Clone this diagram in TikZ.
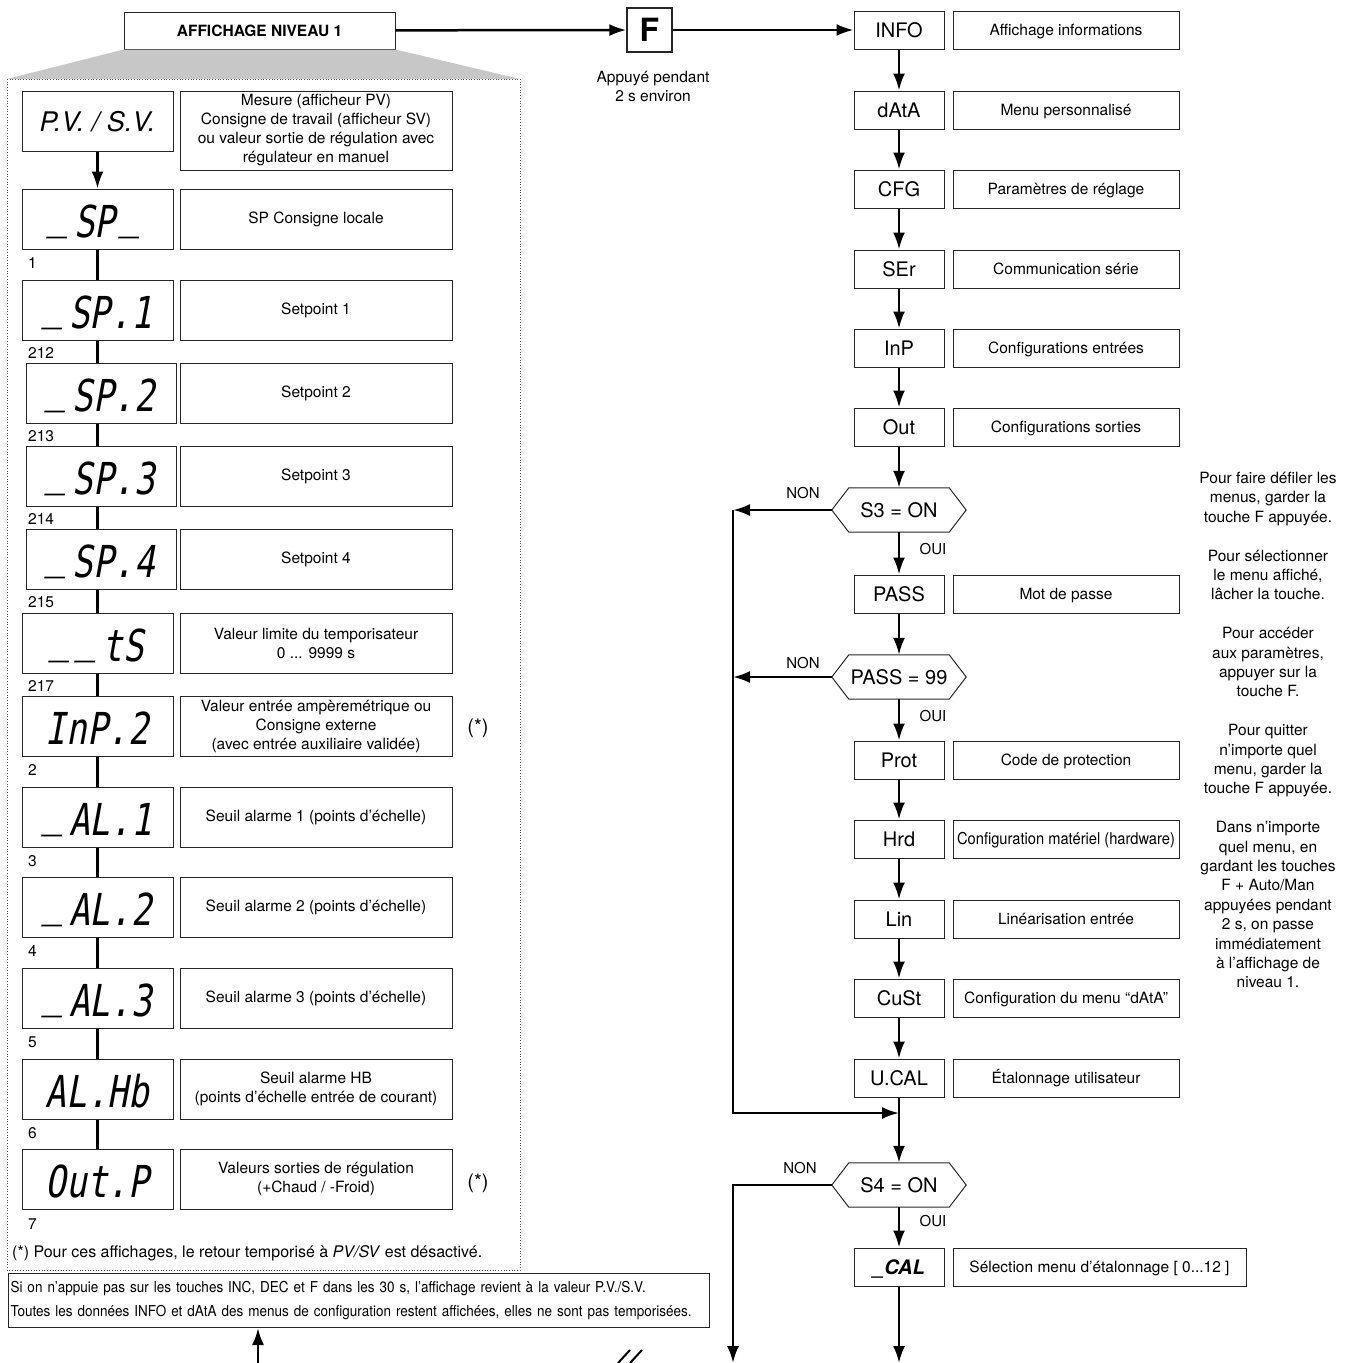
\documentclass[tikz,border=0pt]{standalone}
\usepackage{fontspec}
\setmainfont{TeX Gyre Heros}
\newfontfamily\condfam[FakeStretch=0.9]{TeX Gyre Heros}
\newfontfamily\segfam[FakeStretch=0.78,FakeSlant=0.18]{DejaVu Sans Mono}
\usepackage{tikz}
\usetikzlibrary{arrows.meta}
\usetikzlibrary{positioning}

\newcommand{\descfont}{\fontsize{15.5}{19}\selectfont}
\newcommand{\menufont}{\fontsize{20}{24}\selectfont}
\newcommand{\segfont}{\segfam\fontsize{44}{44}\selectfont}
\newcommand{\segbar}{\raisebox{.2em}{\_}\kern.12em}

\tikzset{
  box/.style={draw=black!85, line width=1pt, inner sep=0pt},
  disp/.style={box, minimum width=151pt, minimum height=60pt, font=\segfont, text height=46pt, text depth=10pt},
  note/.style={box, align=center, minimum width=272pt, minimum height=60pt, font=\descfont},
  menu/.style={box, minimum width=90pt, minimum height=38pt, font=\menufont, text height=14.5pt, text depth=0pt},
  menunote/.style={box, minimum width=226pt, minimum height=38pt, font=\descfont, text height=10pt, text depth=0pt},
  choice/.style={inner sep=0pt, minimum width=134pt, minimum height=44pt, font=\menufont},
  hexline/.style={draw=black!85, line width=1pt},
  flow/.style={line width=2.5pt, -{Latex[length=17pt,width=12pt]}},
  link/.style={line width=2.5pt},
  num/.style={anchor=west, inner sep=0pt, font=\descfont},
  tag/.style={inner sep=0pt, font=\descfont},
  yesno/.style={inner sep=0pt, font=\fontsize{15}{18}\selectfont},
}

\begin{document}
\begin{tikzpicture}[x=1pt, y=-1pt]
 \useasboundingbox (0,0) rectangle (1350,1363);

 % level 1 and F key
 \node [box, minimum width=271pt, minimum height=37pt, font=\bfseries\fontsize{15.5}{18}\selectfont] (level) at (259.5,30.5) {AFFICHAGE NIVEAU 1};
 \node [box, line width=1.3pt, minimum width=45pt, minimum height=44pt, font=\bfseries\fontsize{32}{32}\selectfont] (fkey) at (649.5,30) {F};
 \node [tag, align=center] (fcap) at (653,86) {Appuyé pendant\\2 s environ};

 \fill [black!22] (level.south west) -- (level.south east) -- (520,79) -- (7,79) -- cycle;
 \draw [dotted, line width=0.7pt, black!70] (7,79) rectangle (520,1270);

 % displays of level 1
 \node [disp, font=\itshape\fontsize{27}{27}\selectfont, text height=20pt, text depth=0pt] (pv) at (97.5,121) {P.V. / S.V.};
 \node [note, minimum height=79pt] (pvtxt) at (316,130.5) {Mesure (afficheur PV)\\Consigne de travail (afficheur SV)\\ou valeur sortie de régulation avec\\régulateur en manuel};
 \node [disp] (sp) at (97.5,219) {\segbar SP\kern.12em\segbar};
 \node [note] (sptxt) at (316,219) {SP Consigne locale};
 \node [num] (n1) at (28,263) {1};
 \node [disp] (sp1) at (97.5,310) {\segbar SP.1};
 \node [note] (sp1txt) at (316,310) {Setpoint 1};
 \node [num] (n212) at (28,353) {212};
 \node [disp, minimum width=150pt] (sp2) at (101,393) {\segbar SP.2};
 \node [note] (sp2txt) at (316,393) {Setpoint 2};
 \node [num] (n213) at (28,436) {213};
 \node [disp, minimum width=150pt] (sp3) at (101,476.5) {\segbar SP.3};
 \node [note] (sp3txt) at (316,476.5) {Setpoint 3};
 \node [num] (n214) at (28,519) {214};
 \node [disp, minimum width=150pt] (sp4) at (101,559.5) {\segbar SP.4};
 \node [note] (sp4txt) at (316,559.5) {Setpoint 4};
 \node [num] (n215) at (28,602) {215};
 \node [disp] (ts) at (97.5,643) {\segbar\segbar tS};
 \node [note] (tstxt) at (316,643) {Valeur limite du temporisateur\\0 ... 9999 s};
 \node [num] (n217) at (28,686) {217};
 \node [disp] (inp) at (97.5,726) {InP.2};
 \node [note] (inptxt) at (316,726) {Valeur entrée ampèremétrique ou\\Consigne externe\\(avec entrée auxiliaire validée)};
 \node [tag, font=\fontsize{20}{20}\selectfont] (inpstar) at (478,728) {(*)};
 \node [num] (n2) at (28,770) {2};
 \node [disp] (al1) at (97.5,817) {\segbar AL.1};
 \node [note] (al1txt) at (316,817) {Seuil alarme 1 (points d’échelle)};
 \node [num] (n3) at (28,861) {3};
 \node [disp] (al2) at (97.5,907) {\segbar AL.2};
 \node [note] (al2txt) at (316,907) {Seuil alarme 2 (points d’échelle)};
 \node [num] (n4) at (28,951) {4};
 \node [disp] (al3) at (97.5,998) {\segbar AL.3};
 \node [note] (al3txt) at (316,998) {Seuil alarme 3 (points d’échelle)};
 \node [num] (n5) at (28,1042) {5};
 \node [disp] (alhb) at (97.5,1089) {AL.Hb};
 \node [note] (alhbtxt) at (316,1089) {Seuil alarme HB\\(points d’échelle entrée de courant)};
 \node [num] (n6) at (28,1133) {6};
 \node [disp] (outp) at (97.5,1179) {Out.P};
 \node [note] (outptxt) at (316,1179) {Valeurs sorties de régulation\\(+Chaud / -Froid)};
 \node [tag, font=\fontsize{20}{20}\selectfont] (outpstar) at (478,1183) {(*)};
 \node [num] (n7) at (28,1224) {7};
 \node [num, font=\fontsize{16}{18}\selectfont] (starnote) at (12,1253) {(*) Pour ces affichages, le retour temporisé à \textit{PV/SV} est désactivé.};

 \draw [flow] (pv) -- (sp);
 \draw [link] (sp) -- (sp1);
 \draw [link] (sp1.south -| pv) -- (sp2.north -| pv);
 \draw [link] (sp2.south -| pv) -- (sp3.north -| pv);
 \draw [link] (sp3.south -| pv) -- (sp4.north -| pv);
 \draw [link] (sp4.south -| pv) -- (ts.north -| pv);
 \draw [link] (ts) -- (inp);
 \draw [link] (inp) -- (al1);
 \draw [link] (al1) -- (al2);
 \draw [link] (al2) -- (al3);
 \draw [link] (al3) -- (alhb);
 \draw [link] (alhb) -- (outp);

 % time-out note
 \node [box, anchor=north west, minimum width=701pt, minimum height=54pt, text width=697pt, inner xsep=2pt, align=left, font=\condfam\fontsize{15}{24}\selectfont] (timeout) at (8,1273) {Si on n’appuie pas sur les touches INC, DEC et F dans les 30 s, l’affichage revient à la valeur P.V./S.V.\\Toutes les données INFO et dAtA des menus de configuration restent affichées, elles ne sont pas temporisées.};
 \coordinate (upfoot) at (258,1363);
 \draw [flow] (upfoot) -- (upfoot |- timeout.south);
 \draw [line width=2pt] (618,1363) -- (630,1350) (630,1363) -- (642,1350);

 % menus
 \node [menu] (info) at (899,30) {INFO};
 \node [menunote, right=8pt of info] (infotxt) {Affichage informations};
 \node [menu] (data) at (899,110) {dAtA};
 \node [menunote, right=8pt of data] (datatxt) {Menu personnalisé};
 \node [menu] (cfg) at (899,189) {CFG};
 \node [menunote, right=8pt of cfg] (cfgtxt) {Paramètres de réglage};
 \node [menu] (ser) at (899,269) {SEr};
 \node [menunote, right=8pt of ser] (sertxt) {Communication série};
 \node [menu] (inpm) at (899,348) {InP};
 \node [menunote, right=8pt of inpm] (inpmtxt) {Configurations entrées};
 \node [menu] (outm) at (899,427) {Out};
 \node [menunote, right=8pt of outm] (outmtxt) {Configurations sorties};
 \node [choice] (s3) at (899,510) {S3 = ON};
 \node [menu] (pass) at (899,594) {PASS};
 \node [menunote, right=8pt of pass] (passtxt) {Mot de passe};
 \node [choice] (p99) at (899,677) {PASS = 99};
 \node [menu] (prot) at (899,760) {Prot};
 \node [menunote, right=8pt of prot] (prottxt) {Code de protection};
 \node [menu] (hrd) at (899,839) {Hrd};
 \node [menunote, right=8pt of hrd, font=\condfam\fontsize{16.3}{19}\selectfont] (hrdtxt) {Configuration matériel (hardware)};
 \node [menu] (lin) at (899,919) {Lin};
 \node [menunote, right=8pt of lin] (lintxt) {Linéarisation entrée};
 \node [menu] (cust) at (899,998) {CuSt};
 \node [menunote, right=8pt of cust] (custtxt) {Configuration du menu “dAtA”};
 \node [menu] (ucal) at (899,1078) {U.CAL};
 \node [menunote, right=8pt of ucal] (ucaltxt) {Étalonnage utilisateur};
 \node [choice] (s4) at (899,1185) {S4 = ON};
 \node [menu, font=\bfseries\itshape\fontsize{20}{24}\selectfont] (cal) at (899,1267) {\_CAL};
 \node [menunote, minimum width=293pt, right=8pt of cal] (caltxt) {Sélection menu d’étalonnage [ 0...12 ]};

 \draw [hexline] ([xshift=17pt]s3.north west) -- ([xshift=-17pt]s3.north east) -- (s3.east) -- ([xshift=-17pt]s3.south east) -- ([xshift=17pt]s3.south west) -- (s3.west) -- cycle;
 \draw [hexline] ([xshift=17pt]p99.north west) -- ([xshift=-17pt]p99.north east) -- (p99.east) -- ([xshift=-17pt]p99.south east) -- ([xshift=17pt]p99.south west) -- (p99.west) -- cycle;
 \draw [hexline] ([xshift=17pt]s4.north west) -- ([xshift=-17pt]s4.north east) -- (s4.east) -- ([xshift=-17pt]s4.south east) -- ([xshift=17pt]s4.south west) -- (s4.west) -- cycle;

 \node [yesno] (non3) at (803,493) {NON};
 \node [yesno] (oui3) at (933,549) {OUI};
 \node [yesno] (non99) at (803,663) {NON};
 \node [yesno] (oui99) at (933,716) {OUI};
 \node [yesno] (non4) at (800,1168) {NON};
 \node [yesno] (oui4) at (933,1221) {OUI};

 \node [tag, align=center, anchor=north, font=\fontsize{15.5}{19.4}\selectfont] (help) at (1268,472) {Pour faire défiler les\\menus, garder la\\touche F appuyée.\\[19.4pt]Pour sélectionner\\le menu affiché,\\lâcher la touche.\\[19.4pt]Pour accéder\\aux paramètres,\\appuyer sur la\\touche F.\\[19.4pt]Pour quitter\\n’importe quel\\menu, garder la\\touche F appuyée.\\[19.4pt]Dans n’importe\\quel menu, en\\gardant les touches\\F + Auto/Man\\appuyées pendant\\2 s, on passe\\immédiatement\\à l’affichage de\\niveau 1.};

 \draw [flow] (level) -- (fkey);
 \draw [flow] (fkey) -- (info);
 \draw [flow] (info) -- (data);
 \draw [flow] (data) -- (cfg);
 \draw [flow] (cfg) -- (ser);
 \draw [flow] (ser) -- (inpm);
 \draw [flow] (inpm) -- (outm);
 \draw [flow] (outm) -- (s3);
 \draw [flow] (s3) -- (pass);
 \draw [flow] (pass) -- (p99);
 \draw [flow] (p99) -- (prot);
 \draw [flow] (prot) -- (hrd);
 \draw [flow] (hrd) -- (lin);
 \draw [flow] (lin) -- (cust);
 \draw [flow] (cust) -- (ucal);
 \draw [flow] (ucal) -- (s4);
 \draw [flow] (s4) -- (cal);

 \coordinate (loop) at (733,1113);
 \coordinate (nonfoot) at (733,1363);
 \coordinate (calfoot) at (899,1363);
 \draw [flow] (s3.west) -- (s3.west -| loop);
 \draw [flow] (p99.west) -- (p99.west -| loop);
 \draw [flow] (s3.west -| loop) -- (loop) -- (loop -| ucal);
 \draw [flow] (s4.west) -- (s4.west -| nonfoot) -- (nonfoot);
 \draw [flow] (cal) -- (calfoot);
\end{tikzpicture}
\end{document}
